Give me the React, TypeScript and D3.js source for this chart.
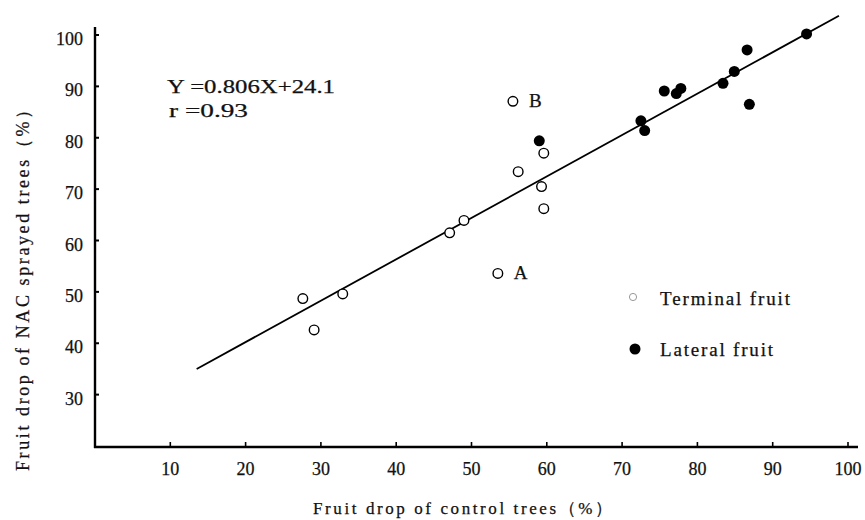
import React from "react";
import * as d3 from "d3";

const terminalX = [27.6, 29.1, 32.9, 47.1, 49.0, 53.5, 55.5, 56.2, 59.6, 59.3, 59.6];
const terminalY = [48.7, 42.6, 49.6, 61.5, 63.9, 53.6, 87.1, 73.4, 77.0, 70.5, 66.2];
const lateralX = [59.0, 72.5, 73.0, 75.6, 77.2, 77.8, 83.4, 84.9, 86.6, 86.9, 94.5];
const lateralY = [79.4, 83.3, 81.4, 89.1, 88.6, 89.6, 90.6, 92.9, 97.1, 86.5, 100.2];
const pointLabels = [
  { x: 53.5, y: 53.6, text: "A" },
  { x: 55.5, y: 87.1, text: "B" },
];
const xTicks = [10, 20, 30, 40, 50, 60, 70, 80, 90, 100];
const yTicks = [30, 40, 50, 60, 70, 80, 90, 100];
const slope = 0.806;
const intercept = 24.1;
const fitRange = [13.5, 98.8];
const equationLines = ["Y =0.806X+24.1", "r =0.93"];
const legendItems = [
  { label: "Terminal fruit", filled: false },
  { label: "Lateral fruit", filled: true },
];

const FONT = "'Liberation Serif', 'Times New Roman', serif";
const TXT = { fill: "#111", stroke: "#111", strokeWidth: 0.25 };

export default function App() {
  const x = d3.scaleLinear().domain([0, 100]).range([95, 848]);
  const y = d3.scaleLinear().domain([20, 100]).range([446, 35]);
  const axisY = 447;
  const axisX = 95;

  const fitLine = d3
    .line<number>()
    .x((d) => x(d))
    .y((d) => y(slope * d + intercept));

  return (
    <svg
      width={865}
      height={520}
      style={{ position: "absolute", left: 0, top: 0, background: "#fff" }}
      fontFamily={FONT}
    >
      <rect x={0} y={0} width={865} height={520} fill="#fff" />
      {/* axes */}
      <line x1={axisX} y1={27} x2={axisX} y2={axisY + 1} stroke="#000" strokeWidth={2.4} />
      <line x1={axisX - 1} y1={axisY} x2={858} y2={axisY} stroke="#000" strokeWidth={2.4} />
      {yTicks.map((t) => (
        <g key={"yt" + t}>
          <line x1={axisX} x2={axisX + 4} y1={y(t)} y2={y(t)} stroke="#000" strokeWidth={2} />
          <text x={83} y={y(t) + 10} textAnchor="end" fontSize={18} {...TXT}>
            {t}
          </text>
        </g>
      ))}
      {xTicks.map((t) => (
        <g key={"xt" + t}>
          <line x1={x(t)} x2={x(t)} y1={axisY} y2={axisY - 5} stroke="#000" strokeWidth={1.6} />
          <text x={x(t)} y={475} textAnchor="middle" fontSize={18} {...TXT}>
            {t}
          </text>
        </g>
      ))}
      {/* regression line */}
      <path d={fitLine(fitRange) || ""} fill="none" stroke="#000" strokeWidth={1.8} />
      {/* points */}
      {terminalX.map((v, i) => (
        <circle
          key={"t" + i}
          cx={x(v)}
          cy={y(terminalY[i])}
          r={4.8}
          fill="#fff"
          stroke="#000"
          strokeWidth={1.4}
        />
      ))}
      {lateralX.map((v, i) => (
        <circle key={"l" + i} cx={x(v)} cy={y(lateralY[i])} r={5.5} fill="#000" />
      ))}
      {pointLabels.map((p) => (
        <text key={p.text} x={x(p.x) + 16} y={y(p.y) + 6} fontSize={19} {...TXT}>
          {p.text}
        </text>
      ))}
      {/* equation */}
      {equationLines.map((s, i) => (
        <text
          key={s}
          x={i === 0 ? 167 : 169}
          y={93 + i * 24}
          fontSize={19}
          {...TXT}
          textLength={i === 0 ? 168 : 79}
          lengthAdjust="spacingAndGlyphs"
        >
          {s}
        </text>
      ))}
      {/* legend */}
      {legendItems.map((it, i) => (
        <g key={it.label}>
          {it.filled ? (
            <circle cx={635} cy={349} r={5.5} fill="#000" />
          ) : (
            <circle cx={633} cy={297} r={3.6} fill="#fff" stroke="#999" strokeWidth={1} />
          )}
          <text
            x={660}
            y={i === 0 ? 305 : 356}
            fontSize={19}
            {...TXT}
            textLength={i === 0 ? 130 : 113}
            lengthAdjust="spacing"
          >
            {it.label}
          </text>
        </g>
      ))}
      {/* axis titles */}
      <text x={313} y={514} fontSize={17} {...TXT} textLength={299} lengthAdjust="spacing">
        Fruit drop of control trees（%）
      </text>
      <text
        transform="translate(29,286) rotate(-90)"
        textAnchor="middle"
        fontSize={18}
        {...TXT}
        textLength={370}
        lengthAdjust="spacing"
      >
        Fruit drop of NAC sprayed trees（%）
      </text>
    </svg>
  );
}
